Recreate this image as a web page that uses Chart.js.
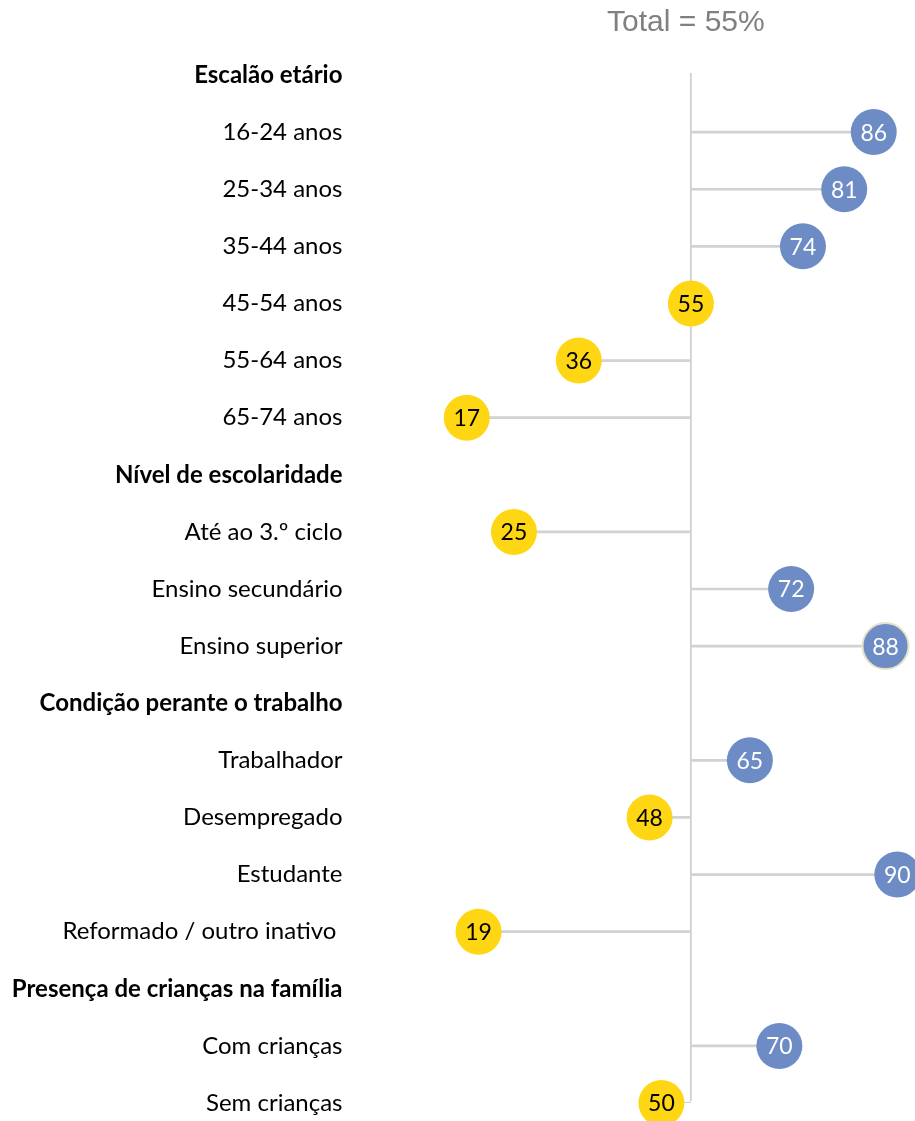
<!DOCTYPE html>
<html lang="pt">
<head>
    <meta charset="UTF-8">
    <title>Total = 55%</title>
    <style>
        html, body { margin: 0; padding: 0; background: #fff; overflow: hidden; }
        #wrap { width: 915px; height: 1121px; }
    </style>
</head>
<body>
    <div id="wrap"><canvas id="myChart"></canvas></div>
    <script src="https://cdn.jsdelivr.net/npm/chart.js"></script>
    <script>
        // rows, top to bottom (headers have no value)
        var categories = [
            "Escalão etário", "16-24 anos", "25-34 anos", "35-44 anos", "45-54 anos", "55-64 anos", "65-74 anos",
            "Nível de escolaridade", "Até ao 3.º ciclo", "Ensino secundário", "Ensino superior",
            "Condição perante o trabalho", "Trabalhador", "Desempregado", "Estudante", "Reformado / outro inativo ",
            "Presença de crianças na família", "Com crianças", "Sem crianças"
        ];
        var values = [
            null, 86, 81, 74, 55, 36, 17,
            null, 25, 72, 88,
            null, 65, 48, 90, 19,
            null, 70, 50
        ];
        var headers = ["Escalão etário", "Nível de escolaridade", "Condição perante o trabalho", "Presença de crianças na família"];
        var total = 55;
        var titleText = "Total = 55%";

        var BLUE = "#6d8bc4";
        var YELLOW = "#ffd614";

        // stems go from the total line to each value
        var stems = values.map(function (v) { return v === null ? null : [total, v]; });

        var totalLinePlugin = {
            id: "totalLine",
            beforeDatasetsDraw: function (chart) {
                var c = chart.ctx;
                var x = chart.scales.x.getPixelForValue(total);
                var y = chart.scales.y;
                c.save();
                c.strokeStyle = "#c8c8c8";
                c.lineWidth = 1.5;
                c.beginPath();
                c.moveTo(x, y.getPixelForValue(0) - 2);
                c.lineTo(x, y.getPixelForValue(categories.length - 1) - 2);
                c.stroke();
                c.restore();
            }
        };

        var labelPlugin = {
            id: "bubbleLabels",
            afterDatasetsDraw: function (chart) {
                var c = chart.ctx;
                var meta = chart.getDatasetMeta(1);
                c.save();
                c.font = "23px Lato";
                c.textAlign = "center";
                c.textBaseline = "middle";
                meta.data.forEach(function (el, i) {
                    var v = values[i];
                    if (v === null) return;
                    c.fillStyle = v > total ? "#ffffff" : "#000000";
                    c.fillText(String(v), el.x, el.y + 1);
                });
                // title above the total line
                var x = chart.scales.x.getPixelForValue(total);
                c.font = "30px 'Liberation Sans'";
                c.fillStyle = "#808080";
                c.fillText(titleText, x - 5, 23);
                c.restore();
            }
        };

        var ctx = document.getElementById("myChart").getContext("2d");
        var myChart = new Chart(ctx, {
            type: "bar",
            data: {
                labels: categories,
                datasets: [
                    {
                        label: "stem",
                        data: stems,
                        order: 2,
                        backgroundColor: "#d2d2d2",
                        barThickness: 2,
                        borderSkipped: false
                    },
                    {
                        type: "line",
                        indexAxis: "y",
                        label: "value",
                        data: values,
                        order: 1,
                        showLine: false,
                        clip: false,
                        pointRadius: 23,
                        pointHoverRadius: 23,
                        pointBackgroundColor: function (c) { return values[c.dataIndex] > total ? BLUE : YELLOW; },
                        pointBorderColor: function (c) { return values[c.dataIndex] === 88 ? "#e6e2c6" : (values[c.dataIndex] > total ? BLUE : YELLOW); },
                        pointBorderWidth: function (c) { return values[c.dataIndex] === 88 ? 2 : 0; }
                    }
                ]
            },
            options: {
                indexAxis: "y",
                responsive: true,
                maintainAspectRatio: false,
                animation: false,
                layout: { autoPadding: false, padding: { top: 75, bottom: 18, left: 0, right: 0 } },
                plugins: {
                    legend: { display: false },
                    tooltip: { enabled: false }
                },
                scales: {
                    x: {
                        display: false,
                        min: 0,
                        max: 93
                    },
                    y: {
                        offset: false,
                        afterFit: function (scale) {
                            scale.width = 366.5;
                            scale.paddingTop = 0;
                            scale.paddingBottom = 0;
                            scale.paddingLeft = 0;
                            scale.paddingRight = 0;
                        },
                        grid: { display: false, drawTicks: false },
                        border: { display: false },
                        ticks: {
                            padding: 24,
                            color: "#000000",
                            autoSkip: false,
                            font: function (c) {
                                var lbl = categories[c.index];
                                return { family: "Lato", size: 24, weight: headers.indexOf(lbl) >= 0 ? "bold" : "normal" };
                            }
                        }
                    }
                }
            },
            plugins: [totalLinePlugin, labelPlugin]
        });
    </script>
</body>
</html>
